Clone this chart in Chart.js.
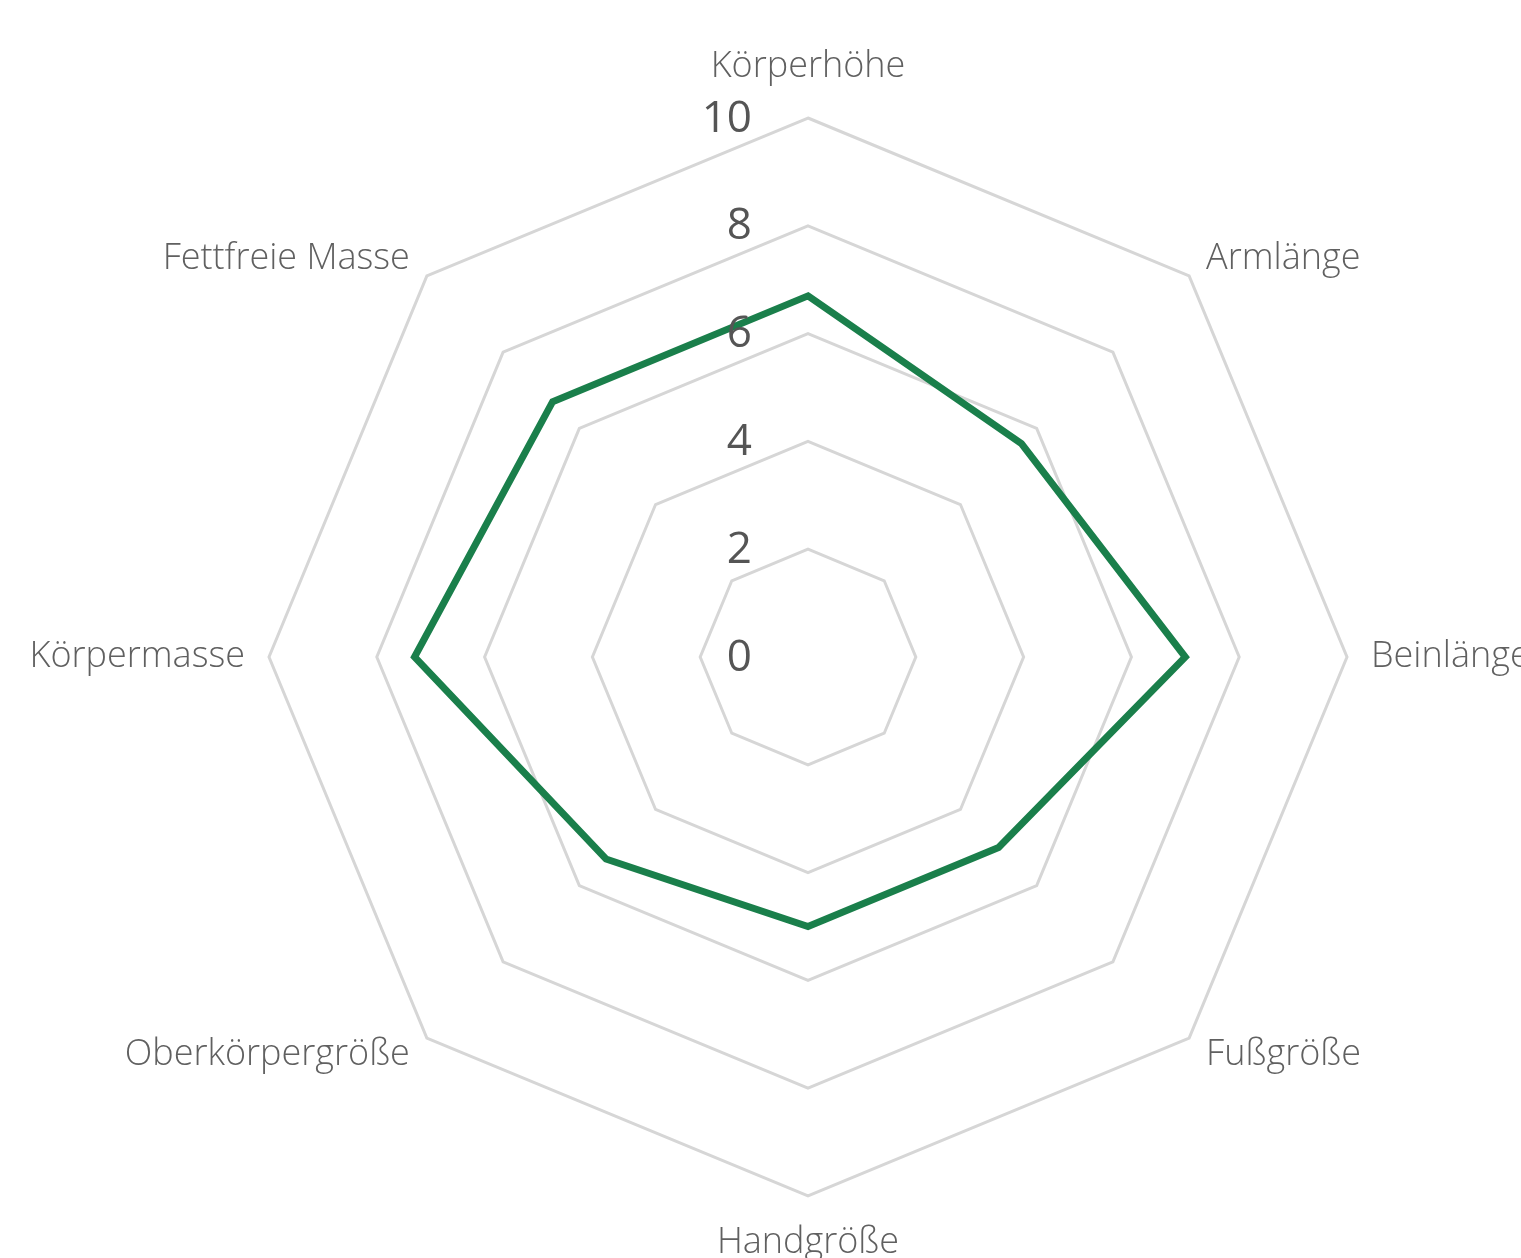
<!DOCTYPE html>
<html lang="de">
<head>
<meta charset="utf-8">
<title>Körpermaße Radar</title>
<script src="https://cdn.jsdelivr.net/npm/chart.js@4/dist/chart.umd.min.js"></script>
<style>
    html, body { margin: 0; padding: 0; background: #fff; overflow: hidden; }
    #wrap { position: relative; width: 1521px; height: 1258px; }
</style>
</head>
<body>
<div id="wrap"><canvas id="radarChart"></canvas></div>
<script>
// DATA
const categories = ["Körperhöhe", "Armlänge", "Beinlänge", "Fußgröße", "Handgröße", "Oberkörpergröße", "Körpermasse", "Fettfreie Masse"];
const scores = [6.7, 5.6, 7.0, 5.0, 5.0, 5.3, 7.3, 6.7];
const tickValues = [0, 2, 4, 6, 8, 10];

// STYLE
const LINE_GREEN = "#1a7f4b";
const GRID_GREY = "#d6d6d6";
const TICK_COLOR = "#555555";
const LABEL_COLOR = "#606060";

// tick labels sit left of the vertical axis, right aligned
const tickLabelPlugin = {
    id: "tickLabels",
    afterDatasetsDraw(chart) {
        const scale = chart.scales.r;
        const ctx = chart.ctx;
        ctx.save();
        ctx.font = "44px 'Open Sans', sans-serif";
        ctx.fillStyle = TICK_COLOR;
        ctx.textAlign = "right";
        ctx.textBaseline = "middle";
        tickValues.forEach(v => {
            const d = scale.getDistanceFromCenterForValue(v);
            ctx.fillText(String(v), scale.xCenter - 56, scale.yCenter - d + 1);
        });
        ctx.restore();
    }
};

// category labels around the web
const pointLabelPlugin = {
    id: "pointLabelsCustom",
    afterDraw(chart) {
        const scale = chart.scales.r;
        const ctx = chart.ctx;
        ctx.save();
        ctx.font = "300 36px 'Open Sans', sans-serif";
        ctx.fillStyle = LABEL_COLOR;
        ctx.textBaseline = "middle";
        chart.data.labels.forEach((label, i) => {
            const pos = scale.getPointPosition(i, scale.drawingArea + 24);
            const angle = scale.getIndexAngle(i);
            const s = Math.sin(angle);
            const c = Math.cos(angle);
            let y = pos.y;
            if (Math.abs(s) < 0.01) {
                ctx.textAlign = "center";
                y += c > 0 ? -27 : 23;
            } else {
                ctx.textAlign = s > 0 ? "left" : "right";
            }
            ctx.fillText(label, pos.x, y);
        });
        ctx.restore();
    }
};

const ctx = document.getElementById("radarChart").getContext("2d");

new Chart(ctx, {
    type: "radar",
    data: {
        labels: categories,
        datasets: [{
            label: "Profil",
            data: scores,
            borderColor: LINE_GREEN,
            borderWidth: 7,
            backgroundColor: "rgba(0,0,0,0)",
            fill: false,
            pointRadius: 0,
            pointHoverRadius: 0,
            tension: 0
        }]
    },
    options: {
        responsive: true,
        maintainAspectRatio: false,
        animation: false,
        layout: {
            padding: { left: 269, top: 118, right: 174, bottom: 62 }
        },
        plugins: {
            legend: { display: false },
            tooltip: { enabled: false }
        },
        elements: { line: { borderJoinStyle: "miter" } },
        scales: {
            r: {
                min: 0,
                max: 10,
                ticks: { stepSize: 2, display: false },
                angleLines: { display: false },
                grid: { color: GRID_GREY, lineWidth: 3 },
                pointLabels: { display: false }
            }
        }
    },
    plugins: [tickLabelPlugin, pointLabelPlugin]
});
</script>
</body>
</html>
